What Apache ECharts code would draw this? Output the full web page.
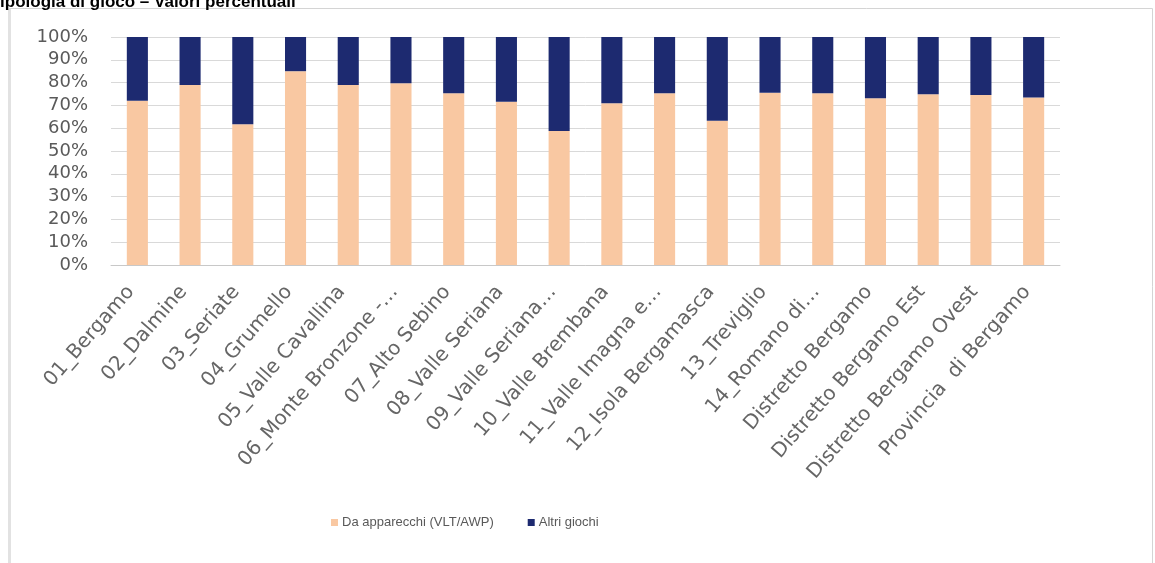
<!DOCTYPE html>
<html>
<head>
<meta charset="utf-8">
<script src="https://cdn.jsdelivr.net/npm/echarts@6/dist/echarts.min.js"></script>
<style>
html,body{margin:0;padding:0;background:#fff;}
#c{width:1155px;height:563px;}
</style>
</head>
<body>
<div id="c"></div>
<script>
const categories = ["01_Bergamo","02_Dalmine","03_Seriate","04_Grumello","05_Valle Cavallina","06_Monte Bronzone -…","07_Alto Sebino","08_Valle Seriana","09_Valle Seriana…","10_Valle Brembana","11_Valle Imagna e…","12_Isola Bergamasca","13_Treviglio","14_Romano di…","Distretto Bergamo","Distretto Bergamo Est","Distretto Bergamo Ovest","Provincia  di Bergamo"];
const apparecchi = [72, 79, 61.7, 85, 79, 79.7, 75.3, 71.6, 58.8, 70.9, 75.3, 63.3, 75.6, 75.3, 73.1, 74.9, 74.6, 73.5];
const altri = [28, 21, 38.3, 15, 21, 20.3, 24.7, 28.4, 41.2, 29.1, 24.7, 36.7, 24.4, 24.7, 26.9, 25.1, 25.4, 26.5];
const yTicks = [0,10,20,30,40,50,60,70,80,90,100];
const seriesNames = ["Da apparecchi (VLT/AWP)", "Altri giochi"];
const titleText = "Tipologia di gioco – Valori percentuali";

const chart = echarts.init(document.getElementById('c'), null, {renderer:'canvas'});
const option = {
  backgroundColor: '#ffffff',
  animation: false,
  graphic: [
    {type:'rect', shape:{x:9.5, y:8.5, width:1143, height:560}, style:{fill:'#ffffff', stroke:'#d4d4d4', lineWidth:1}, z:-10},
    {type:'rect', shape:{x:8, y:9, width:3, height:560}, style:{fill:'#e2e2e2'}, z:-9},
    {type:'text', left:-10, top:-6, style:{text:titleText, font:'bold 17px "Liberation Sans", Arial, sans-serif', fill:'#000000'}}
  ],
  grid: {left:111, right:95, top:37, bottom:298, containLabel:false},
  legend: {
    left: 326, top: 511,
    itemWidth: 7, itemHeight: 7, itemGap: 34,
    icon: 'rect',
    textStyle: {fontFamily:'"Liberation Sans", Arial, sans-serif', fontSize:13, color:'#595959', padding:[0,0,0,-1]},
    data: seriesNames
  },
  xAxis: {
    type: 'category',
    data: categories,
    axisLine: {show:true, lineStyle:{color:'#c8c8c8', width:1}},
    axisTick: {show:false},
    axisLabel: {rotate:49, interval:0, margin:16, padding:[0,10,0,0], fontFamily:'"DejaVu Sans", sans-serif', fontSize:20, color:'#666666'}
  },
  yAxis: {
    type: 'value',
    min: 0, max: 100, interval: 10,
    axisLine: {show:false},
    axisTick: {show:false},
    splitLine: {lineStyle:{color:'#d9d9d9', width:1}},
    axisLabel: {margin:23, fontFamily:'"DejaVu Sans", sans-serif', fontSize:18, color:'#5a5a5a', formatter: v => yTicks.includes(v) ? v + '%' : ''}
  },
  series: [
    {name: seriesNames[0], type:'bar', stack:'tot', data: apparecchi, barCategoryGap:'60%', itemStyle:{color:'#f9c8a2'}},
    {name: seriesNames[1], type:'bar', stack:'tot', data: altri, barCategoryGap:'60%', itemStyle:{color:'#1d2a70'}}
  ]
};
chart.setOption(option);
</script>
</body>
</html>
